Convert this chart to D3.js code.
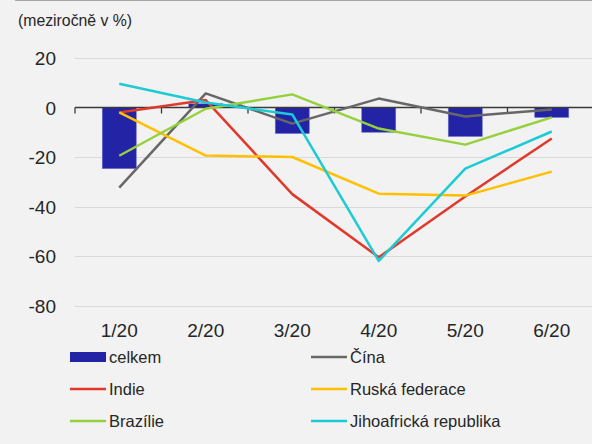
<!DOCTYPE html>
<html>
<head>
<meta charset="utf-8">
<script src="https://cdn.jsdelivr.net/npm/d3@7"></script>
<style>
  html, body { margin: 0; padding: 0; background: #f2f2f2; }
  svg { display: block; font-family: "Liberation Sans", Arial, sans-serif; }
</style>
</head>
<body>
<script>
// data
var months = ["1/20", "2/20", "3/20", "4/20", "5/20", "6/20"];
var celkem = [-24.7, 1.5, -10.5, -10, -11.7, -4];
var cina = [-32.4, 5.7, -6.5, 3.6, -3.6, -0.8];
var indie = [-2, 3, -35, -60.5, -36, -12.5];
var rusko = [-2, -19.4, -20, -34.8, -35.6, -25.9];
var brazilie = [-19.5, -0.5, 5.3, -8.5, -15, -4];
var jar = [9.6, 2, -2.8, -62, -24.7, -9.7];
var yTicks = [20, 0, -20, -40, -60, -80];

var lineSeries = [
  {name: "Čína", values: cina, color: "#676767"},
  {name: "Indie", values: indie, color: "#e0392b"},
  {name: "Ruská federace", values: rusko, color: "#ffc000"},
  {name: "Brazílie", values: brazilie, color: "#95d13c"},
  {name: "Jihoafrická republika", values: jar, color: "#1ccbd3"}
];

var width = 592,
    height = 444;

var svg = d3.select("body").append("svg")
    .attr("width", width)
    .attr("height", height);

svg.append("rect")
    .attr("width", width).attr("height", height)
    .attr("fill", "#f2f2f2");

// thin border at the top
svg.append("line")
    .attr("x1", 15).attr("x2", width)
    .attr("y1", 0.5).attr("y2", 0.5)
    .attr("stroke", "#a6a6a6");

svg.append("text")
    .attr("x", 18).attr("y", 26)
    .attr("font-size", 15.8)
    .attr("fill", "#262626")
    .text("(meziročně v %)");

var x = d3.scaleBand()
    .domain(months)
    .range([75, 594])
    .paddingInner(0)
    .paddingOuter(0);

var y = d3.scaleLinear()
    .domain([-80, 20])
    .range([305.5, 58]);

// gridlines
svg.append("g")
  .selectAll("line")
    .data(yTicks.filter(function(d) { return d !== 0; }))
  .enter().append("line")
    .attr("x1", 75).attr("x2", width)
    .attr("y1", function(d) { return Math.round(y(d)) + 0.5; })
    .attr("y2", function(d) { return Math.round(y(d)) + 0.5; })
    .attr("stroke", "#d9d9d9")
    .attr("stroke-width", 1.2);

// y tick labels
svg.append("g")
  .selectAll("text")
    .data(yTicks)
  .enter().append("text")
    .attr("x", 56)
    .attr("y", function(d) { return y(d) + 7; })
    .attr("text-anchor", "end")
    .attr("font-size", 19)
    .attr("fill", "#262626")
    .text(function(d) { return d; });

// bars
var barW = 34;
svg.append("g")
  .selectAll("rect")
    .data(celkem)
  .enter().append("rect")
    .attr("x", function(d, i) { return x(months[i]) + x.bandwidth() / 2 - barW / 2 + 1; })
    .attr("y", function(d) { return y(Math.max(0, d)); })
    .attr("width", barW)
    .attr("height", function(d) { return Math.abs(y(d) - y(0)); })
    .attr("fill", "#2323a6")
    .attr("stroke", "#6f6fcf")
    .attr("stroke-width", 0.6);

// zero axis with tick marks at category boundaries
var axis = svg.append("g");
axis.append("line")
    .attr("x1", 75).attr("x2", width)
    .attr("y1", y(0)).attr("y2", y(0))
    .attr("stroke", "#3a3a3a")
    .attr("stroke-width", 1.5);
axis.selectAll("line.tick")
    .data(months)
  .enter().append("line")
    .attr("class", "tick")
    .attr("x1", function(d) { return x(d); })
    .attr("x2", function(d) { return x(d); })
    .attr("y1", y(0)).attr("y2", y(0) + 6)
    .attr("stroke", "#3a3a3a")
    .attr("stroke-width", 1.3);

// x labels
svg.append("g")
  .selectAll("text")
    .data(months)
  .enter().append("text")
    .attr("x", function(d) { return x(d) + x.bandwidth() / 2 + 1; })
    .attr("y", 337)
    .attr("text-anchor", "middle")
    .attr("font-size", 19)
    .attr("fill", "#262626")
    .text(function(d) { return d; });

// lines
var line = d3.line()
    .x(function(d, i) { return x(months[i]) + x.bandwidth() / 2 + 1; })
    .y(function(d) { return y(d); });

svg.append("g")
  .selectAll("path")
    .data(lineSeries)
  .enter().append("path")
    .attr("d", function(d) { return line(d.values); })
    .attr("fill", "none")
    .attr("stroke", function(d) { return d.color; })
    .attr("stroke-width", 2.5)
    .attr("stroke-linejoin", "round");

// legend
var legendItems = [
  {name: "celkem", color: "#2323a6", bar: true},
  {name: "Čína", color: "#676767"},
  {name: "Indie", color: "#e0392b"},
  {name: "Ruská federace", color: "#ffc000"},
  {name: "Brazílie", color: "#95d13c"},
  {name: "Jihoafrická republika", color: "#1ccbd3"}
];

var legend = svg.append("g")
  .selectAll("g")
    .data(legendItems)
  .enter().append("g")
    .attr("transform", function(d, i) {
      var col = i % 2, row = Math.floor(i / 2);
      return "translate(" + (col ? 311 : 70) + "," + (357 + row * 32) + ")";
    });

legend.append("rect")
    .attr("x", 0)
    .attr("y", function(d) { return d.bar ? -5 : -1.25; })
    .attr("width", 36)
    .attr("height", function(d) { return d.bar ? 10 : 2.5; })
    .attr("fill", function(d) { return d.color; });

legend.append("text")
    .attr("x", 39)
    .attr("y", 6)
    .attr("font-size", 16.5)
    .attr("fill", "#262626")
    .text(function(d) { return d.name; });
</script>
</body>
</html>
